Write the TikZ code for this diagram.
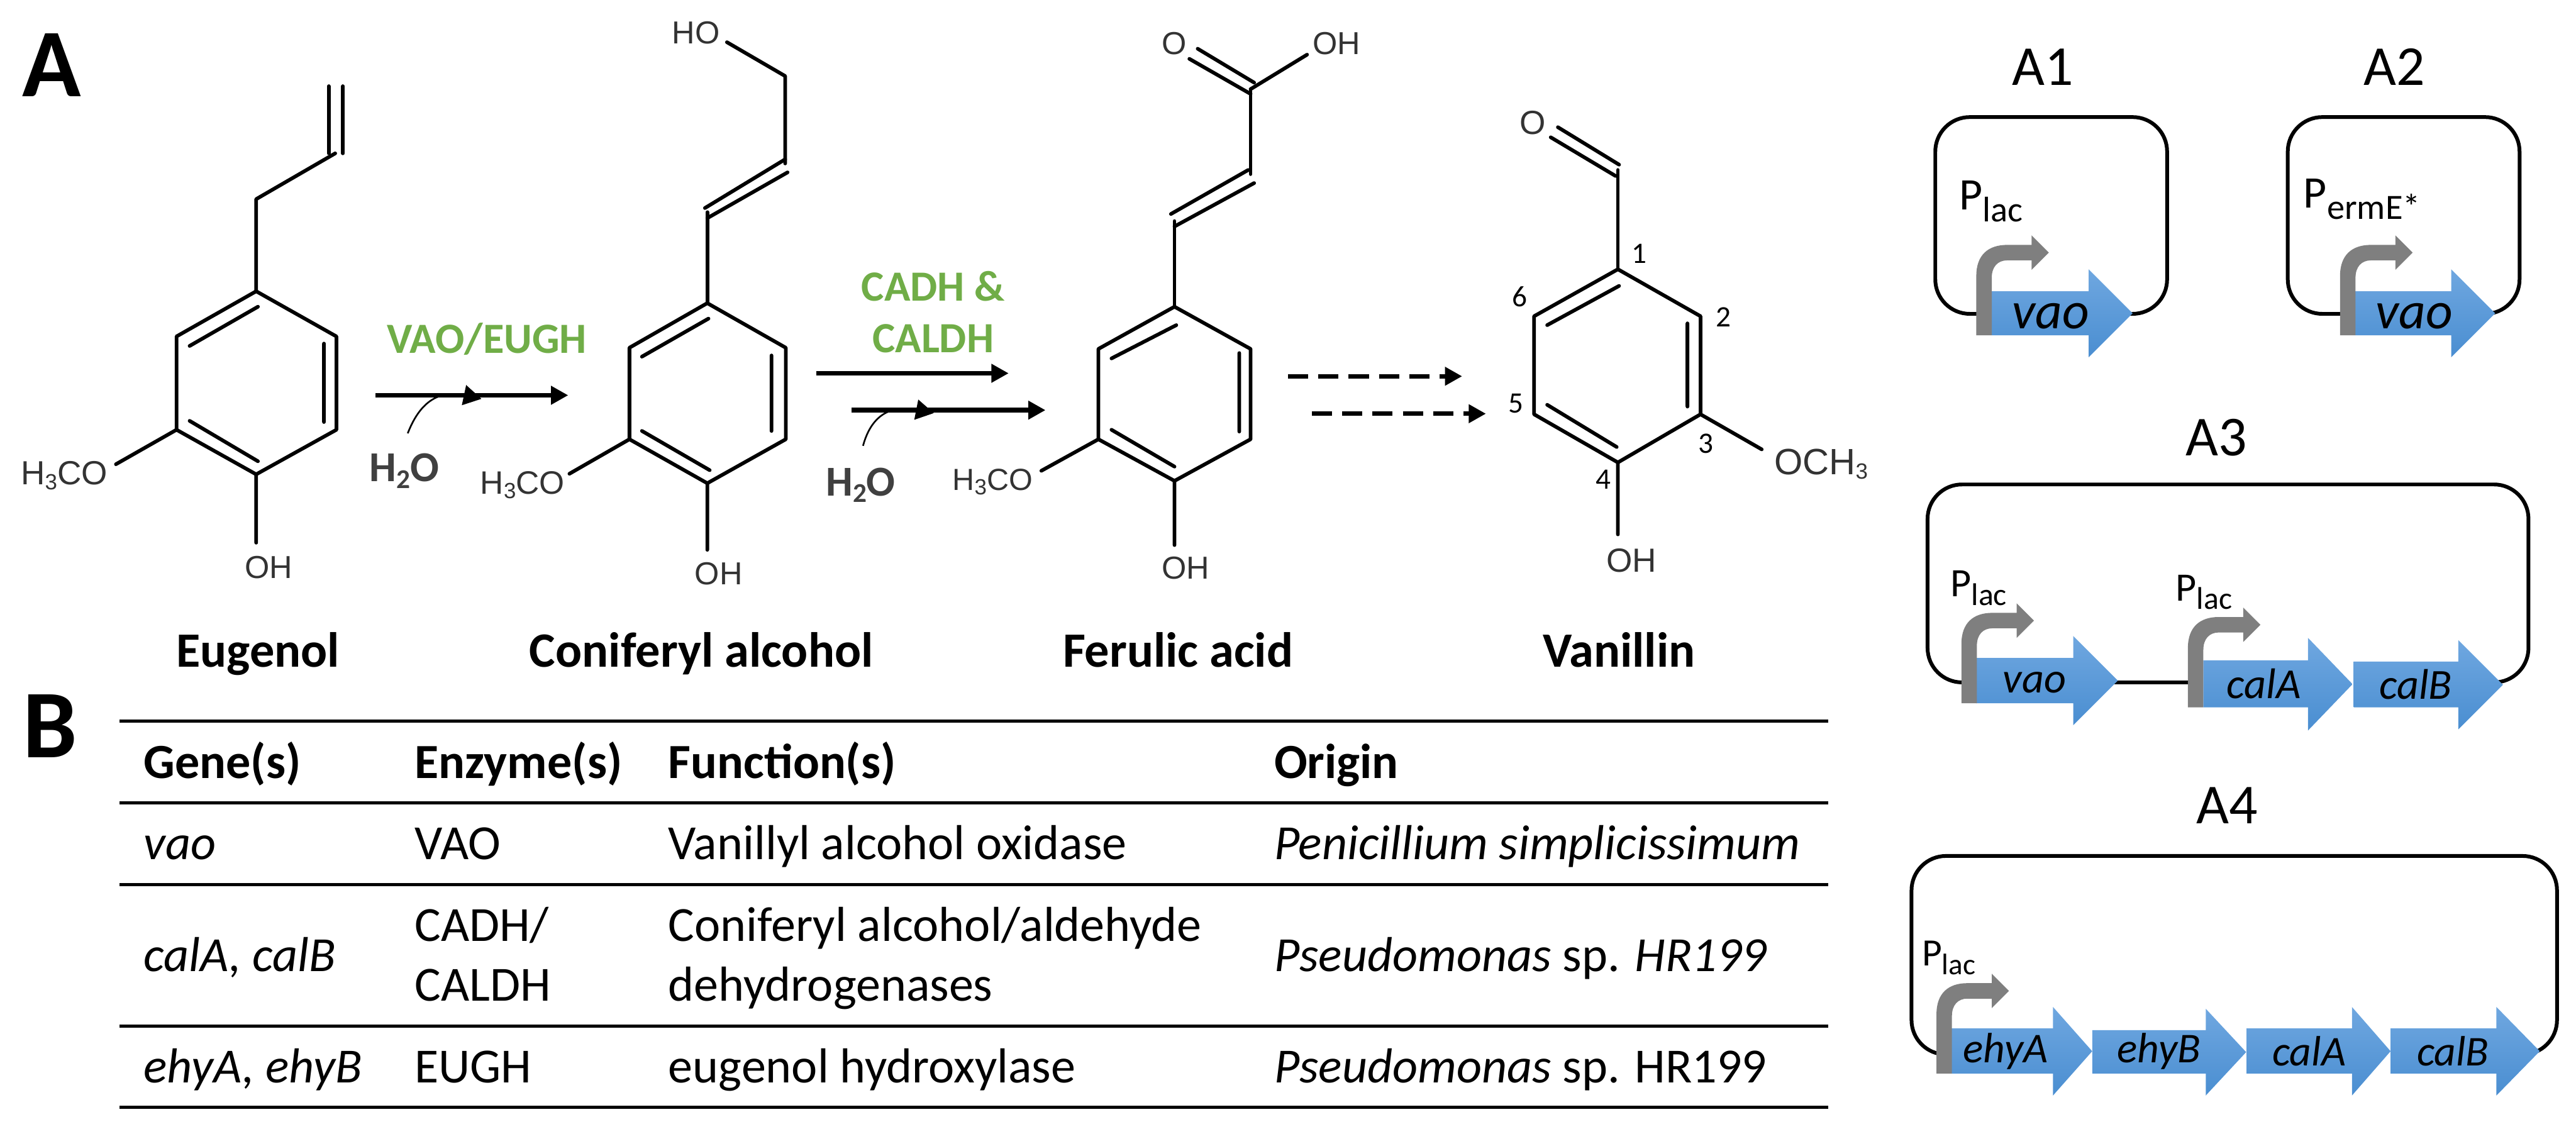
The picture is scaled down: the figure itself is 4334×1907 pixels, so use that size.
\documentclass[tikz,border=0pt]{standalone}
\usepackage{fontspec}
\usetikzlibrary{arrows.meta}
\setmainfont{Carlito}
\newfontfamily\chemfont{Liberation Sans}
\newcommand{\fsz}[1]{\fontsize{#1pt}{#1pt}\selectfont}
\newcommand{\chemsub}[1]{\raisebox{-2.2pt}{\fsz{10.5}#1}}
\newcommand{\psub}[4]{{\fsz{#1}P\raisebox{-#3pt}{\fsz{#2}#4}}}
\newcommand{\htwoo}{H\raisebox{-3.2pt}{\fsz{13}2}O}
\definecolor{enzgreen}{HTML}{70AD47}
\definecolor{promogray}{HTML}{7F7F7F}
\definecolor{genetop}{HTML}{6FA7E0}
\definecolor{genebot}{HTML}{4A8ED1}
\tikzset{
  bond/.style={line width=1.75pt,line cap=round,line join=round,black},
  chem/.style={inner sep=0pt,text=black!80,font=\chemfont\fsz{#1}},
  chem/.default=15.2,
  rxn/.style={line width=2.2pt,black,-{Triangle[length=0.29cm,width=0.3cm]}},
  rxndash/.style={rxn,dash pattern=on 0.34cm off 0.17cm},
  water/.style={line width=0.8pt,black,-{Triangle[length=0.3cm,width=0.34cm]}},
  wlabel/.style={inner sep=0pt,text=black!75,font=\bfseries\fsz{20.4}},
  enz/.style={inner sep=0pt,text=enzgreen,font=\bfseries\fsz{20.6}},
  cname/.style={inner sep=0pt,anchor=base,font=\bfseries\fsz{23.6}},
  panel/.style={inner sep=0pt,font=\bfseries\fsz{46.4}},
  posnum/.style={inner sep=0pt,font=\fsz{14.2}},
  plasmid/.style={line width=1.8pt,black,rounded corners=0.58cm},
  plabel/.style={inner sep=0pt,font=\fsz{27}},
  prom/.style={inner sep=0pt,anchor=base west},
  gene/.style={inner sep=0pt,font=\itshape\fsz{#1}},
  gene/.default=20.5,
  tline/.style={line width=1.45pt,black},
  tcell/.style={inner sep=0pt,anchor=base west,font=\fsz{23.5}},
  thead/.style={tcell,font=\bfseries\fsz{23.5}},
  titem/.style={tcell,font=\itshape\fsz{23.5}},
}
\newcommand{\promoterat}[2]{%
  \fill[promogray,shift={(#1,#2)}] (0,0)--(0,-100) .. controls (0,-135) and (20,-152) .. (52,-152)
    --(93,-152)--(93,-168)--(122,-139)--(93,-110)--(93,-126)--(52,-126)
    .. controls (36,-126) and (26,-115) .. (26,-97)--(26,0)--cycle;}
% x0, body top, body bottom, head x, head top, head bottom, tip x
\newcommand{\genearrow}[7]{%
  \shade[top color=genetop,bottom color=genebot]
    (#1,#2)--(#4,#2)--(#4,#5)--(#7,{(#5+#6)/2})--(#4,#6)--(#4,#3)--(#1,#3)--cycle;}
\begin{document}
\begin{tikzpicture}[x=0.01cm,y=-0.01cm]
\useasboundingbox (0,0) rectangle (4334,1907);
\node[panel] (panelA) at (87,110) {A};
\node[panel] (panelB) at (84,1222) {B};

% ---- Eugenol
\draw[bond] (431,490)--(566,566)--(566,723)--(431,798)--(297,723)--(297,566)--cycle;
\draw[bond] (319,582)--(434,516) (545,578)--(545,710) (319,708)--(434,776);
\draw[bond] (431,490)--(431,335)--(564,258);
\draw[bond] (553,145)--(553,258) (577,145)--(577,258);
\draw[bond] (431,798)--(431,913) (297,723)--(195,781);
\node[chem] (eugOH) at (452,954) {OH};
\node[chem=16] (eugOMe) at (108,800) {H\chemsub{3}CO};
\node[cname] (eugName) at (434,1122) {Eugenol};

% ---- arrow 1
\coordinate (r1a) at (632,665); \coordinate (r1b) at (956,665);
\coordinate (w1a) at (686,729); \coordinate (w1b) at (810,671);
\draw[rxn] (r1a)--(r1b);
\draw[water] (w1a) .. controls (705,680) and (735,655) .. (w1b);
\node[wlabel] (w1) at (680,792) {\htwoo};
\node[enz] (enz1) at (819,570) {VAO/EUGH};

% ---- Coniferyl alcohol
\draw[bond] (1190,510)--(1322,585)--(1322,739)--(1190,813)--(1059,739)--(1059,585)--cycle;
\draw[bond] (1080,600)--(1192,536) (1298,598)--(1298,725) (1080,725)--(1194,791);
\draw[bond] (1190,510)--(1190,357);
\draw[bond] (1186,350)--(1321,268) (1190,367)--(1325,290);
\draw[bond] (1321,275)--(1321,128)--(1223,71);
\draw[bond] (1190,813)--(1190,925) (1059,739)--(958,797);
\node[chem] (conHO) at (1171,55) {HO};
\node[chem] (conOH) at (1209,965) {OH};
\node[chem=15.5] (conOMe) at (879,816) {H\chemsub{3}CO};
\node[cname] (conName) at (1180,1122) {Coniferyl alcohol};

% ---- arrow 2
\coordinate (r2a) at (1373,628); \coordinate (r2b) at (1697,628);
\coordinate (r3a) at (1433,690); \coordinate (r3b) at (1759,690);
\coordinate (w2a) at (1452,750); \coordinate (w2b) at (1571,695);
\draw[rxn] (r2a)--(r2b);
\draw[rxn] (r3a)--(r3b);
\draw[water] (w2a) .. controls (1465,702) and (1495,680) .. (w2b);
\node[wlabel] (w2) at (1448,816) {\htwoo};
\node[enz] (enz2) at (1570,482) {CADH \&};
\node[enz] (enz3) at (1570,570) {CALDH};

% ---- Ferulic acid
\draw[bond] (1976,516)--(2104,587)--(2104,739)--(1976,809)--(1848,739)--(1848,587)--cycle;
\draw[bond] (1870,603)--(1979,547) (2085,594)--(2085,726) (1870,723)--(1976,785);
\draw[bond] (1976,516)--(1976,372);
\draw[bond] (1970,360)--(2100,286) (1976,381)--(2110,308);
\draw[bond] (2104,293)--(2104,150);
\draw[bond] (2001,99)--(2104,158) (2015,82)--(2110,139);
\draw[bond] (2104,150)--(2199,92);
\draw[bond] (1976,809)--(1976,917) (1848,739)--(1752,792);
\node[chem] (ferO) at (1976,73) {O};
\node[chem] (ferOHa) at (2249,73) {OH};
\node[chem] (ferOH) at (1995,956) {OH};
\node[chem=14.6] (ferOMe) at (1670,811) {H\chemsub{3}CO};
\node[cname] (ferName) at (1982,1122) {Ferulic acid};

% ---- dashed arrows
\coordinate (d1a) at (2167,633); \coordinate (d1b) at (2460,633);
\coordinate (d2a) at (2207,696); \coordinate (d2b) at (2500,696);
\draw[rxndash] (d1a)--(d1b);
\draw[rxndash] (d2a)--(d2b);

% ---- Vanillin
\draw[bond] (2722,453)--(2861,532)--(2861,697)--(2722,778)--(2581,697)--(2581,532)--cycle;
\draw[bond] (2603,547)--(2724,481) (2839,544)--(2839,684) (2603,681)--(2720,752);
\draw[bond] (2722,453)--(2722,286);
\draw[bond] (2621,214)--(2724,277) (2609,231)--(2718,296);
\draw[bond] (2861,697)--(2964,756) (2722,778)--(2722,899);
\node[chem=16] (vanO) at (2579,207) {O};
\node[chem=17.5] (vanOMe) at (3064,781) {OCH\chemsub{3}};
\node[chem=16] (vanOH) at (2745,943) {OH};
\node[posnum] (n1) at (2758,427) {1};
\node[posnum] (n2) at (2900,534) {2};
\node[posnum] (n3) at (2870,746) {3};
\node[posnum] (n4) at (2698,807) {4};
\node[posnum] (n5) at (2551,679) {5};
\node[posnum] (n6) at (2557,499) {6};
\node[cname] (vanName) at (2724,1122) {Vanillin};

% ---- Table
\draw[tline] (201,1213)--(3076,1213) (201,1351)--(3076,1351) (201,1488)--(3076,1488) (201,1726)--(3076,1726) (201,1863)--(3076,1863);
\node[thead] (h1) at (241,1309) {Gene(s)};
\node[thead] (h2) at (697,1309) {Enzyme(s)};
\node[thead] (h3) at (1124,1309) {Function(s)};
\node[thead] (h4) at (2143,1309) {Origin};
\node[titem] (c11) at (241,1446) {vao};
\node[tcell] (c12) at (697,1446) {VAO};
\node[tcell] (c13) at (1124,1446) {Vanillyl alcohol oxidase};
\node[titem] (c14) at (2143,1446) {Penicillium simplicissimum};
\node[titem] (c21) at (241,1634) {calA, calB};
\node[tcell] (c22) at (697,1583) {CADH/};
\node[tcell] (c22b) at (697,1684) {CALDH};
\node[tcell] (c23) at (1124,1583) {Coniferyl alcohol/aldehyde};
\node[tcell] (c23b) at (1124,1684) {dehydrogenases};
\node[tcell] (c24) at (2143,1634) {\textit{Pseudomonas} sp. \textit{HR199}};
\node[titem] (c31) at (241,1821) {ehyA, ehyB};
\node[tcell] (c32) at (697,1821) {EUGH};
\node[tcell] (c33) at (1124,1821) {eugenol hydroxylase};
\node[tcell] (c34) at (2143,1821) {\textit{Pseudomonas} sp. HR199};

% ---- A1
\node[plabel] (A1) at (3437,113) {A1};
\draw[plasmid] (3400,528)--(3256,528)--(3256,197)--(3646,197)--(3646,528)--(3500,528);
\genearrow{3351}{490}{564}{3514}{453}{601}{3588}
\promoterat{3325}{564}
\node[gene=25] (A1g) at (3450,532) {vao};
\node[prom] (A1p) at (3296,353) {\psub{21.6}{17}{5.7}{lac}};

% ---- A2
\node[plabel] (A2) at (4028,113) {A2};
\draw[plasmid] (4000,528)--(3849,528)--(3849,197)--(4239,197)--(4239,528)--(4100,528);
\genearrow{3963}{490}{564}{4124}{453}{601}{4198}
\promoterat{3937}{564}
\node[gene=25] (A2g) at (4062,532) {vao};
\node[prom] (A2p) at (3875,350) {\psub{21.6}{17}{5.4}{ermE*}};

% ---- A3
\node[plabel] (A3) at (3729,736) {A3};
\draw[plasmid] (3400,1148)--(3243,1148)--(3243,815)--(4254,815)--(4254,1148)--(4100,1148);
\draw[bond,line cap=butt] (3500,1148)--(3700,1148);
\genearrow{3325}{1107}{1183}{3488}{1070}{1220}{3563}
\genearrow{3707}{1111}{1190}{3883}{1073}{1229}{3958}
\genearrow{3960}{1113}{1190}{4136}{1077}{1227}{4211}
\promoterat{3300}{1183}
\promoterat{3681}{1190}
\node[gene] (A3g1) at (3423,1148) {vao};
\node[gene] (A3g2) at (3809,1150) {calA};
\node[gene] (A3g3) at (4064,1151) {calB};
\node[prom] (A3p1) at (3281,1004) {\psub{19.3}{15}{4}{lac}};
\node[prom] (A3p2) at (3660,1011) {\psub{19.3}{15}{4}{lac}};

% ---- A4
\node[plabel] (A4) at (3747,1355) {A4};
\draw[plasmid] (3400,1774)--(3216,1774)--(3216,1440)--(4302,1440)--(4302,1774)--(4200,1774);
\genearrow{3284}{1730}{1806}{3454}{1694}{1843}{3520}
\genearrow{3520}{1733}{1806}{3711}{1697}{1843}{3779}
\genearrow{3780}{1730}{1806}{3957}{1694}{1843}{4022}
\genearrow{4022}{1730}{1806}{4200}{1694}{1843}{4273}
\promoterat{3258}{1806}
\node[gene=20.3] (A4g1) at (3374,1769) {ehyA};
\node[gene=20.3] (A4g2) at (3632,1769) {ehyB};
\node[gene=20.3] (A4g3) at (3885,1768) {calA};
\node[gene=20.3] (A4g4) at (4127,1768) {calB};
\node[prom] (A4p) at (3233,1625) {\psub{18.5}{14.2}{4.2}{lac}};
\end{tikzpicture}
\end{document}
